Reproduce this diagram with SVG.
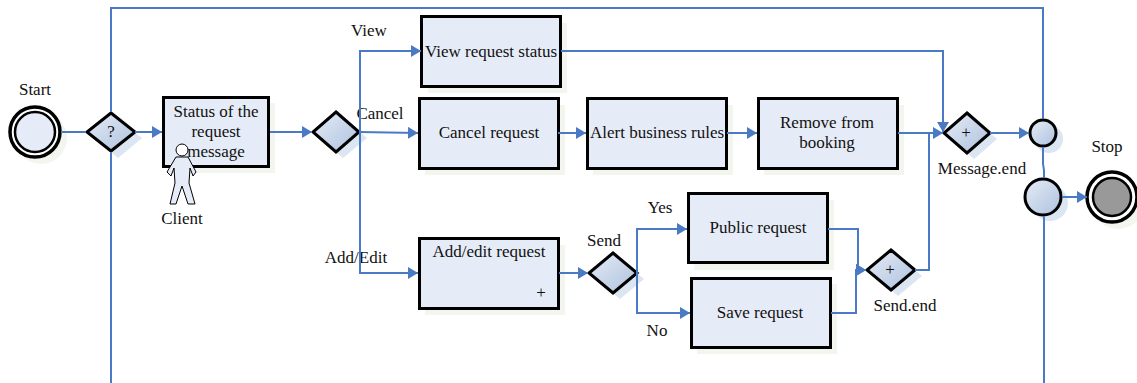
<svg xmlns="http://www.w3.org/2000/svg" width="1137" height="383" viewBox="0 0 1137 383">
<defs>
<linearGradient id="g" x1="0" y1="0" x2="1" y2="1"><stop offset="0" stop-color="#e6ecf6"/><stop offset="1" stop-color="#adc1de"/></linearGradient>
<marker id="a" markerUnits="userSpaceOnUse" markerWidth="11" markerHeight="12" refX="10" refY="6" orient="auto"><path d="M0,0 L10,6 L0,12 Z" fill="#4a7ac4"/></marker>
</defs>
<style>
text{font-family:"Liberation Serif","Times New Roman",serif;font-size:17px;fill:#111;text-anchor:middle}
.c{fill:none;stroke:#4a7ac4;stroke-width:2}
.t{fill:#e6ecf7;stroke:#000;stroke-width:3}
.ts{fill:#f3f6ee}
.d{fill:url(#g);stroke:#000;stroke-width:3;stroke-linejoin:miter}
.ds{fill:#dce5f2}
</style>
<g id="start">
<circle cx="41" cy="138" r="26" fill="#f3f6ee"/>
<circle cx="35" cy="132" r="25" fill="#fff" stroke="#000" stroke-width="3.500"/>
<circle cx="35" cy="132" r="20" fill="#e6ecf7" stroke="#000" stroke-width="2.500"/>
<text x="35" y="95">Start</text>
</g>
<g id="gateway-question">
<path class="ds" d="M118 119L142 138L118 158L94 138Z"/>
<path class="d" d="M111 113L135 132L111 151L87 132Z"/>
<text x="111" y="137">?</text>
</g>
<g id="task-status">
<rect class="ts" x="169" y="103" width="106" height="70"/>
<rect class="t" x="163.500" y="97.500" width="105" height="69"/>
<text x="216" y="117">Status of the</text>
<text x="216" y="137">request</text>
<text x="216" y="157">message</text>
</g>
<g id="client">
<path d="M176 157L188 157L196 172L193 176L190 168L189 183L195 204L188 204L182 186L176 204L170 204L175 183L174 168L171 176L167 172Z" fill="#e6ecf7" stroke="#000" stroke-width="1"/>
<circle cx="182" cy="150" r="6" fill="#fff" stroke="#000" stroke-width="1"/>
<text x="182" y="224">Client</text>
</g>
<g id="gateway-main">
<path class="ds" d="M343 118L367 138L343 158L319 138Z"/>
<path class="d" d="M336 112L359 132L336 152L313 132Z"/>
</g>
<text x="369" y="36">View</text>
<text x="380" y="119">Cancel</text>
<text x="356" y="263">Add/Edit</text>
<g id="task-view">
<rect class="ts" x="428" y="23" width="139" height="70"/>
<rect class="t" x="421.500" y="16.500" width="139" height="70"/>
<text x="491" y="57">View request status</text>
</g>
<g id="task-cancel">
<rect class="ts" x="425" y="105" width="140" height="70"/>
<rect class="t" x="419.500" y="98.500" width="139" height="70"/>
<text x="489" y="138">Cancel request</text>
</g>
<g id="task-alert">
<rect class="ts" x="593" y="105" width="140" height="70"/>
<rect class="t" x="587.500" y="98.500" width="139" height="70"/>
<text x="657" y="138">Alert business rules</text>
</g>
<g id="task-remove">
<rect class="ts" x="764" y="105" width="140" height="70"/>
<rect class="t" x="758.500" y="98.500" width="139" height="70"/>
<text x="827" y="128">Remove from</text>
<text x="827" y="148">booking</text>
</g>
<g id="task-add">
<rect class="ts" x="425" y="245" width="140" height="70"/>
<rect class="t" x="419.500" y="238.500" width="139" height="70"/>
<text x="489" y="257">Add/edit request</text>
<text x="541" y="298">+</text>
</g>
<g id="gateway-send">
<path class="ds" d="M620 259L644 279L620 299L596 279Z"/>
<path class="d" d="M613 253L637 273L613 293L589 273Z"/>
<text x="604" y="246">Send</text>
</g>
<text x="660" y="213">Yes</text>
<text x="657" y="336">No</text>
<g id="task-public">
<rect class="ts" x="694" y="200" width="140" height="70"/>
<rect class="t" x="688.500" y="193.500" width="139" height="69"/>
<text x="758" y="233">Public request</text>
</g>
<g id="task-save">
<rect class="ts" x="697" y="284" width="140" height="70"/>
<rect class="t" x="691.500" y="278.500" width="139" height="69"/>
<text x="760" y="318">Save request</text>
</g>
<g id="gateway-send-end">
<path class="ds" d="M898 256L922 276L898 296L874 276Z"/>
<path class="d" d="M891 250L915 270L891 290L867 270Z"/>
<text x="890" y="275">+</text>
<text x="905" y="311">Send.end</text>
</g>
<g id="gateway-message-end">
<path class="ds" d="M974 119L997 139L974 159L951 139Z"/>
<path class="d" d="M967 113L990 133L967 153L944 133Z"/>
<text x="966" y="138">+</text>
<text x="982" y="174">Message.end</text>
</g>
<g id="event-small">
<circle cx="1049" cy="139" r="14" fill="#dce5f2"/>
<circle cx="1043" cy="133" r="13" fill="url(#g)" stroke="#000" stroke-width="3"/>
</g>
<g id="event-large">
<circle cx="1050" cy="203" r="18" fill="#dce5f2"/>
<circle cx="1043" cy="197" r="18" fill="url(#g)" stroke="#000" stroke-width="3"/>
</g>
<g id="stop">
<circle cx="1118" cy="203" r="26" fill="#f3f6ee"/>
<circle cx="1112" cy="197" r="25" fill="#fff" stroke="#000" stroke-width="3.500"/>
<circle cx="1112" cy="197" r="19" fill="#999" stroke="#000" stroke-width="2.500"/>
<text x="1107" y="152">Stop</text>
</g>
<g id="connectors">
<path class="c" d="M1043 119V8H111V112"/>
<path class="c" d="M111 152V383"/>
<path class="c" d="M61 132H86"/>
<path class="c" marker-end="url(#a)" d="M135 132H162"/>
<path class="c" marker-end="url(#a)" d="M270 132H312"/>
<path class="c" marker-end="url(#a)" d="M360 132V51H421"/>
<path class="c" marker-end="url(#a)" d="M359 132L418 133"/>
<path class="c" marker-end="url(#a)" d="M558 133H586"/>
<path class="c" marker-end="url(#a)" d="M727 133H757"/>
<path class="c" marker-end="url(#a)" d="M360 132V273H418"/>
<path class="c" marker-end="url(#a)" d="M559 273H588"/>
<path class="c" marker-end="url(#a)" d="M637 273V229H687"/>
<path class="c" marker-end="url(#a)" d="M637 273V313H690"/>
<path class="c" marker-end="url(#a)" d="M828 229H858V270H866"/>
<path class="c" marker-end="url(#a)" d="M831 313H856V270H866"/>
<path class="c" marker-end="url(#a)" d="M561 51H943V132"/>
<path class="c" marker-end="url(#a)" d="M898 133H943"/>
<path class="c" d="M915 270H929V133"/>
<path class="c" marker-end="url(#a)" d="M990 133H1029"/>
<path class="c" d="M1043 147V164L1044 170V178"/>
<path class="c" d="M1044 216V383"/>
<path class="c" marker-end="url(#a)" d="M1062 197H1087"/>
</g>
</svg>
